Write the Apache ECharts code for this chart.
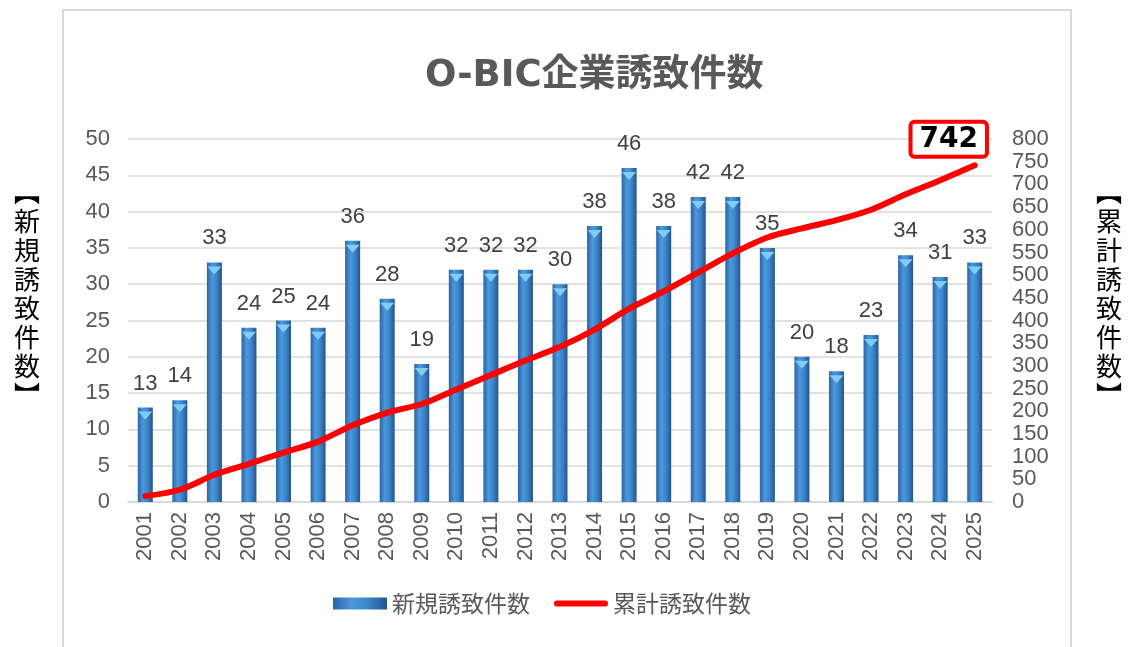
<!DOCTYPE html>
<html lang="ja">
<head>
    <meta charset="UTF-8">
    <title>O-BIC企業誘致件数</title>
    <script src="https://cdn.jsdelivr.net/npm/echarts@6/dist/echarts.min.js"></script>
    <style>
        html, body { margin: 0; padding: 0; background: #fff; }
        #main { width: 1128px; height: 647px; }
    </style>
</head>
<body>
<div id="main"></div>
<script>
    // data
    var years = ['2001','2002','2003','2004','2005','2006','2007','2008','2009','2010','2011','2012','2013',
        '2014','2015','2016','2017','2018','2019','2020','2021','2022','2023','2024','2025'];
    var newCount = [13,14,33,24,25,24,36,28,19,32,32,32,30,38,46,38,42,42,35,20,18,23,34,31,33];
    var totalCount = [13,27,60,84,109,133,169,197,216,248,280,312,342,380,426,464,506,548,583,603,621,644,678,709,742];

    var txt = '#595959';
    var font = '"Liberation Sans", Arial, "Noto Sans CJK JP", sans-serif';
    var cjk = '"Noto Sans CJK JP", sans-serif';
    var last = totalCount.length - 1;

    // vertical side captions
    function sideText(x, str) {
        return {
            type: 'text',
            left: x,
            top: 178,
            style: {
                text: str.split('').join('\n'),
                fontFamily: cjk,
                fontSize: 26,
                lineHeight: 29,
                fill: '#000'
            }
        };
    }

    var chart = echarts.init(document.getElementById('main'));
    chart.setOption({
        backgroundColor: '#fff',
        animation: false,
        textStyle: { fontFamily: font },
        title: {
            text: 'O-BIC企業誘致件数',
            left: 420,
            top: 53,
            textStyle: {
                fontFamily: '"DejaVu Sans", "Noto Sans CJK JP", sans-serif',
                fontWeight: 'bold',
                fontSize: 37,
                color: txt
            }
        },
        graphic: [{
            type: 'rect',
            shape: { x: 63, y: 10, width: 1008, height: 700 },
            style: { fill: null, stroke: '#d9d9d9', lineWidth: 2 }
        },
            sideText(14, '︻新規誘致件数︼'),
            sideText(1096, '︻累計誘致件数︼')
        ],
        legend: {
            data: [
                { name: '新規誘致件数', icon: 'rect' },
                { name: '累計誘致件数', icon: 'path://M0,0 M56,12 M3,3 L53,3 Q56,3 56,6 Q56,9 53,9 L3,9 Q0,9 0,6 Q0,3 3,3 Z' }
            ],
            left: 328,
            top: 587,
            itemWidth: 54,
            itemHeight: 12,
            itemGap: 24,
            textStyle: { color: txt, fontSize: 23, fontFamily: cjk }
        },
        grid: { left: 128, right: 136, top: 139, bottom: 145 },
        xAxis: {
            type: 'category',
            data: years,
            axisLine: { lineStyle: { color: '#d9d9d9', width: 2 } },
            axisTick: { show: false },
            axisLabel: { rotate: 90, color: txt, fontSize: 22, margin: 10 }
        },
        yAxis: [{
            type: 'value',
            min: 0, max: 50, interval: 5,
            axisLine: { show: false },
            axisTick: { show: false },
            axisLabel: { color: txt, fontSize: 22, margin: 18 },
            splitLine: { lineStyle: { color: '#d9d9d9', width: 1.5 } }
        }, {
            type: 'value',
            min: 0, max: 800, interval: 50,
            position: 'right',
            axisLine: { show: false },
            axisTick: { show: false },
            axisLabel: { color: txt, fontSize: 22, margin: 20 },
            splitLine: { show: false }
        }],
        series: [{
            name: '新規誘致件数',
            type: 'bar',
            data: newCount,
            barWidth: 15,
            barGap: '-100%',
            itemStyle: {
                color: {
                    type: 'linear', x: 0, y: 0, x2: 1, y2: 0,
                    colorStops: [
                        { offset: 0, color: '#2b64a3' },
                        { offset: 0.35, color: '#4b99dd' },
                        { offset: 0.65, color: '#3c84c8' },
                        { offset: 1, color: '#23548c' }
                    ]
                }
            },
            label: {
                show: true,
                position: 'top',
                distance: 13,
                color: '#404040',
                fontSize: 22
            },
            z: 2
        }, {
            name: 'cap',
            type: 'pictorialBar',
            data: newCount,
            barWidth: 15,
            barGap: '-100%',
            symbol: 'triangle',
            symbolRotate: 180,
            symbolSize: [14, 8],
            symbolPosition: 'end',
            symbolOffset: [0, '50%'],
            itemStyle: { color: '#7fcdf4' },
            silent: true,
            z: 3
        }, {
            name: '累計誘致件数',
            type: 'line',
            yAxisIndex: 1,
            data: totalCount,
            smooth: 0.3,
            symbol: 'none',
            lineStyle: { color: '#ff0000', width: 6, cap: 'round' },
            itemStyle: { color: '#ff0000' },
            markPoint: {
                symbol: 'rect',
                symbolSize: 0,
                silent: true,
                data: [{ coord: [years[last], totalCount[last]] }],
                label: {
                    show: true,
                    formatter: String(totalCount[last]),
                    position: 'inside',
                    offset: [-26, -26],
                    color: '#000',
                    fontFamily: '"DejaVu Sans", Verdana, sans-serif',
                    fontWeight: 'bold',
                    fontSize: 28,
                    backgroundColor: '#fff',
                    borderColor: '#ff0000',
                    borderWidth: 4,
                    borderRadius: 2,
                    padding: [2, 7, 1, 7]
                }
            },
            z: 5
        }]
    });
</script>
</body>
</html>
